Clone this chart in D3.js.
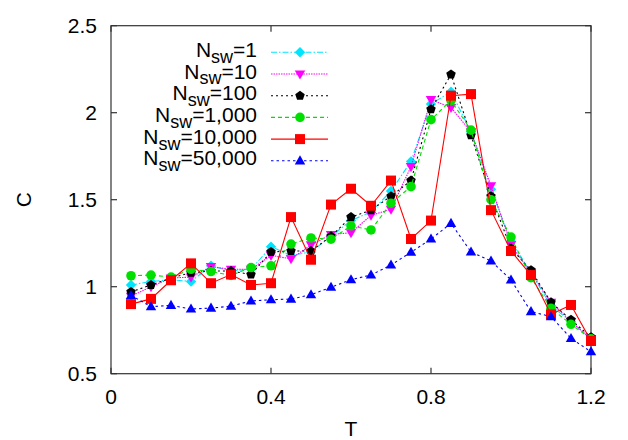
<!DOCTYPE html>
<html>
<head>
<meta charset="utf-8">
<script src="https://cdn.jsdelivr.net/npm/d3@7"></script>
<style>
  html, body { margin: 0; padding: 0; background: #fff; }
  text { font-family: "Liberation Sans", Arial, Helvetica, sans-serif; }
</style>
</head>
<body>
<svg id="chart" width="628" height="440"></svg>
<script>
const T = [0.05,0.1,0.15,0.2,0.25,0.3,0.35,0.4,0.45,0.5,0.55,0.6,0.65,0.7,0.75,0.8,0.85,0.9,0.95,1.0,1.05,1.1,1.15,1.2];

const seriesNames = ["1", "10", "100", "1,000", "10,000", "50,000"];

const c_nsw1 = [1.01,1.03,1.04,1.03,1.12,1.09,1.10,1.23,1.18,1.20,1.29,1.38,1.43,1.55,1.72,2.05,2.12,1.89,1.56,1.26,1.08,0.89,0.80,0.70];
const c_nsw10 = [0.945,1.00,1.05,1.055,1.115,1.10,1.10,1.18,1.16,1.24,1.30,1.31,1.41,1.445,1.69,2.075,2.03,1.89,1.58,1.24,1.08,0.91,0.80,0.70];
const c_nsw100 = [0.97,1.01,1.05,1.08,1.09,1.09,1.07,1.20,1.205,1.205,1.29,1.40,1.44,1.52,1.61,2.02,2.22,1.87,1.52,1.22,1.095,0.91,0.81,0.71];
const c_nsw1000 = [1.063,1.067,1.055,1.10,1.087,1.065,1.11,1.12,1.245,1.28,1.273,1.35,1.326,1.48,1.575,1.96,2.07,1.90,1.50,1.285,1.052,0.876,0.784,0.70];
const c_nsw10000 = [0.90,0.93,1.037,1.134,1.02,1.07,1.01,1.02,1.40,1.155,1.472,1.563,1.465,1.61,1.274,1.38,2.098,2.107,1.44,1.205,1.067,0.841,0.895,0.688];
const c_nsw50000 = [0.95,0.885,0.893,0.872,0.877,0.888,0.918,0.925,0.929,0.954,0.997,1.04,1.067,1.125,1.198,1.274,1.364,1.20,1.148,1.039,0.857,0.828,0.703,0.626];

const xTicks = [0, 0.4, 0.8, 1.2];
const yTicks = [0.5, 1, 1.5, 2, 2.5];

const styles = [
  { color: "#00e5ff", dash: "6,2,1.5,2", marker: "diamond" },
  { color: "#ff00ff", dash: "1.5,1", marker: "tridown" },
  { color: "#000000", dash: "2,3", marker: "pentagon" },
  { color: "#00e000", dash: "4,3", marker: "circle" },
  { color: "#ff0000", dash: null, marker: "square" },
  { color: "#0000ff", dash: "2.5,3", marker: "triup" }
];
const values = [c_nsw1, c_nsw10, c_nsw100, c_nsw1000, c_nsw10000, c_nsw50000];

const svg = d3.select("#chart");
const margin = { left: 111, right: 628 - 591, top: 25.7, bottom: 440 - 373.7 };
const W = 628, H = 440;

const x = d3.scaleLinear().domain([0, 1.2]).range([margin.left, W - margin.right]);
const y = d3.scaleLinear().domain([0.5, 2.5]).range([H - margin.bottom, margin.top]);

function markerPath(type) {
  const p = d3.path();
  if (type === "square") {
    const s = 5; p.rect(-s, -s, 2*s, 2*s);
  } else if (type === "circle") {
    p.arc(0, 0, 4.8, 0, 2*Math.PI);
  } else if (type === "diamond") {
    const r = 5.2; p.moveTo(0,-r); p.lineTo(r,0); p.lineTo(0,r); p.lineTo(-r,0); p.closePath();
  } else if (type === "triup") {
    const r = 5.5; p.moveTo(0,-r); p.lineTo(r*0.95, r*0.65); p.lineTo(-r*0.95, r*0.65); p.closePath();
  } else if (type === "tridown") {
    const r = 5.5; p.moveTo(0, r); p.lineTo(r*0.95, -r*0.65); p.lineTo(-r*0.95, -r*0.65); p.closePath();
  } else if (type === "pentagon") {
    const r = 5;
    for (let i = 0; i < 5; i++) {
      const a = -Math.PI/2 + i * 2*Math.PI/5;
      const px = r*Math.cos(a), py = r*Math.sin(a);
      if (i === 0) p.moveTo(px, py); else p.lineTo(px, py);
    }
    p.closePath();
  }
  return p.toString();
}

// axes frame
const g = svg.append("g");
const axisColor = "#333";
g.append("rect")
  .attr("x", x(0)).attr("y", y(2.5))
  .attr("width", x(1.2) - x(0)).attr("height", y(0.5) - y(2.5))
  .attr("fill", "none").attr("stroke", axisColor).attr("stroke-width", 1.2);

const tickLen = 6;
xTicks.forEach(t => {
  g.append("line").attr("x1", x(t)).attr("x2", x(t)).attr("y1", y(0.5)).attr("y2", y(0.5) - tickLen)
    .attr("stroke", axisColor).attr("stroke-width", 1.2);
  g.append("line").attr("x1", x(t)).attr("x2", x(t)).attr("y1", y(2.5)).attr("y2", y(2.5) + tickLen)
    .attr("stroke", axisColor).attr("stroke-width", 1.2);
  g.append("text").attr("x", x(t)).attr("y", y(0.5) + 30.5)
    .attr("text-anchor", "middle").attr("font-size", 21).attr("fill", "#000")
    .text(d3.format("~g")(t));
});
yTicks.forEach(v => {
  g.append("line").attr("x1", x(0)).attr("x2", x(0) + tickLen).attr("y1", y(v)).attr("y2", y(v))
    .attr("stroke", axisColor).attr("stroke-width", 1.2);
  g.append("line").attr("x1", x(1.2)).attr("x2", x(1.2) - tickLen).attr("y1", y(v)).attr("y2", y(v))
    .attr("stroke", axisColor).attr("stroke-width", 1.2);
  g.append("text").attr("x", x(0) - 14).attr("y", y(v) + 7.5)
    .attr("text-anchor", "end").attr("font-size", 21).attr("fill", "#000")
    .text(d3.format("~g")(v));
});

// axis labels
svg.append("text").attr("x", (x(0) + x(1.2)) / 2).attr("y", 436)
  .attr("text-anchor", "middle").attr("font-size", 21).text("T");
svg.append("text").attr("transform", `translate(30.5, ${(y(0.5) + y(2.5)) / 2}) rotate(-90)`)
  .attr("text-anchor", "middle").attr("font-size", 21).text("C");

// data
const line = d3.line().x((d, i) => x(T[i])).y(d => y(d));
values.forEach((vals, k) => {
  const st = styles[k];
  const sg = svg.append("g");
  sg.append("path").attr("d", line(vals)).attr("fill", "none")
    .attr("stroke", st.color).attr("stroke-width", 1.1)
    .attr("stroke-dasharray", st.dash);
  sg.selectAll("path.m").data(vals).join("path").attr("class", "m")
    .attr("d", markerPath(st.marker))
    .attr("transform", (d, i) => `translate(${x(T[i])},${y(d)})`)
    .attr("fill", st.color);
});

// legend
const legY0 = 52.3, legDy = 21.7;
const legTextX = 257, legL1 = 271, legL2 = 328, legM = 300;
seriesNames.forEach((name, k) => {
  const st = styles[k];
  const ly = legY0 + k * legDy;
  const t = svg.append("text").attr("x", legTextX).attr("y", ly + 4.6)
    .attr("text-anchor", "end").attr("font-size", 21).attr("fill", "#000");
  t.append("tspan").text("N");
  t.append("tspan").attr("font-size", 18).attr("dy", 5.8).text("sw");
  t.append("tspan").attr("dy", -5.8).text("=" + name);
  svg.append("line").attr("x1", legL1).attr("x2", legL2).attr("y1", ly).attr("y2", ly)
    .attr("stroke", st.color).attr("stroke-width", 1.1).attr("stroke-dasharray", st.dash);
  svg.append("path").attr("d", markerPath(st.marker))
    .attr("transform", `translate(${legM},${ly})`).attr("fill", st.color);
});
</script>
</body>
</html>
